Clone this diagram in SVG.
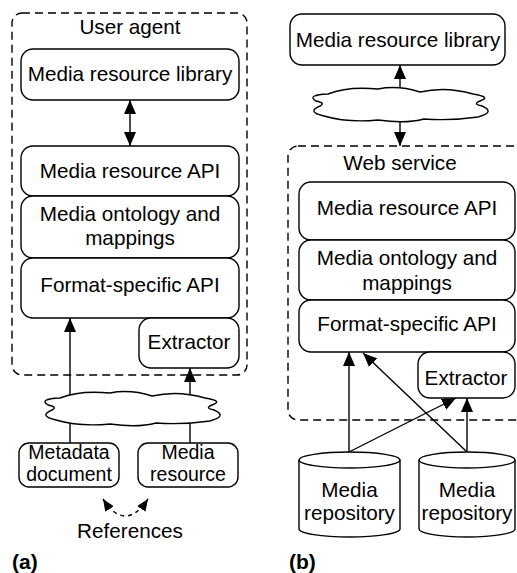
<svg xmlns="http://www.w3.org/2000/svg" width="517" height="573" viewBox="0 0 517 573">
<style>
.box{fill:#fff;stroke:#000;stroke-width:1.4}
.dash{fill:none;stroke:#000;stroke-width:1.4;stroke-dasharray:8 5}
.t{font-family:"Liberation Sans",Arial,sans-serif;font-size:20.7px;fill:#000;text-anchor:middle}
.s{font-size:19.5px}
.b{font-family:"Liberation Sans",Arial,sans-serif;font-size:21px;font-weight:bold;fill:#000}
.ln{fill:none;stroke:#000;stroke-width:1.4}
.cloud{fill:#fff;stroke:#000;stroke-width:1.4}
</style>
<defs>
<marker id="ah" viewBox="0 0 14 12" refX="14" refY="6" markerWidth="14" markerHeight="12" markerUnits="userSpaceOnUse" orient="auto-start-reverse">
<path d="M0,0 L14,6 L0,12 z" fill="#000"/>
</marker>
<marker id="ahs" viewBox="0 0 12 10" refX="12" refY="5" markerWidth="12" markerHeight="10" markerUnits="userSpaceOnUse" orient="auto-start-reverse">
<path d="M0,0 L12,5 L0,10 z" fill="#000"/>
</marker>
<path id="cl" d="M60 398 Q80 390 110 393 Q130 389 152 396 Q178 390 205 398 Q224 401 212 405 Q204 408 214 410 Q228 416 210 421 Q182 425 156 423 Q138 428 110 424 Q80 427 56 420 Q38 416 52 410 Q58 407 48 405 Q38 399 60 398 Z"/>
</defs>
<g id="user-agent">
<rect class="dash" x="12" y="13" width="235" height="362" rx="10"/>
<text class="t" x="130" y="34">User agent</text>
</g>
<g id="connectors">
<line class="ln" x1="130" y1="100" x2="130" y2="146" marker-start="url(#ah)" marker-end="url(#ah)"/>
<line class="ln" x1="70" y1="397" x2="70" y2="318" marker-end="url(#ah)"/>
<line class="ln" x1="190" y1="397" x2="190" y2="368" marker-end="url(#ah)"/>
<line class="ln" x1="70" y1="424" x2="70" y2="443"/>
<line class="ln" x1="190" y1="424" x2="190" y2="443"/>
<path class="ln" d="M103 499 Q125 533 148 499" stroke-dasharray="4 4" marker-start="url(#ahs)" marker-end="url(#ahs)"/>
<line class="ln" x1="400" y1="90" x2="400" y2="65" marker-end="url(#ah)"/>
<line class="ln" x1="400" y1="121" x2="400" y2="146" marker-end="url(#ah)"/>
<line class="ln" x1="349" y1="452" x2="349" y2="352" marker-end="url(#ah)"/>
<line class="ln" x1="467" y1="452" x2="363" y2="353" marker-end="url(#ah)"/>
<line class="ln" x1="349" y1="452" x2="456" y2="398" marker-end="url(#ah)"/>
<line class="ln" x1="467" y1="452" x2="467" y2="398" marker-end="url(#ah)"/>
</g>
<g id="mrl-a"><rect class="box" x="21" y="49" width="218" height="51" rx="12"/><text class="t" x="130" y="81">Media resource library</text></g>
<g id="api-a"><rect class="box" x="21" y="146" width="218" height="50" rx="12"/><text class="t" x="130" y="178">Media resource API</text></g>
<g id="onto-a"><rect class="box" x="21" y="196" width="218" height="62" rx="12"/><text class="t" x="130" y="221">Media ontology and</text><text class="t" x="130" y="245">mappings</text></g>
<g id="fmt-a"><rect class="box" x="21" y="258" width="218" height="60" rx="12"/><text class="t" x="130" y="292">Format-specific API</text></g>
<g id="ext-a"><rect class="box" x="139" y="318" width="100" height="50" rx="12"/><text class="t" x="189" y="349">Extractor</text></g>
<g id="cloud-a"><use href="#cl" class="cloud"/></g>
<g id="meta-doc"><rect class="box" x="19" y="443" width="100" height="44" rx="10"/><text class="t s" x="69" y="459">Metadata</text><text class="t s" x="69" y="481">document</text></g>
<g id="media-res"><rect class="box" x="138" y="443" width="100" height="44" rx="10"/><text class="t s" x="188" y="459">Media</text><text class="t s" x="188" y="481">resource</text></g>
<g id="refs"><text class="t" x="130" y="538">References</text></g>
<g id="label-a"><text class="b" x="12" y="569">(a)</text></g>

<g id="mrl-b"><rect class="box" x="290" y="14" width="215" height="51" rx="12"/><text class="t" x="398" y="47">Media resource library</text></g>
<g id="cloud-b"><use href="#cl" class="cloud" transform="translate(268,-304)"/></g>
<g id="web-service">
<rect class="dash" x="288" y="146" width="240" height="274" rx="10"/>
<text class="t" x="400" y="170">Web service</text>
</g>
<g id="api-b"><rect class="box" x="299" y="182" width="216" height="58" rx="12"/><text class="t" x="407" y="215">Media resource API</text></g>
<g id="onto-b"><rect class="box" x="299" y="240" width="216" height="60" rx="12"/><text class="t" x="407" y="265">Media ontology and</text><text class="t" x="407" y="290">mappings</text></g>
<g id="fmt-b"><rect class="box" x="299" y="300" width="216" height="52" rx="12"/><text class="t" x="407" y="331">Format-specific API</text></g>
<g id="ext-b"><rect class="box" x="418" y="352" width="97" height="46" rx="12"/><text class="t" x="466" y="385">Extractor</text></g>
<g id="repo-1">
<path class="box" d="M299 460 A50.5 8 0 0 1 400 460 L400 529 A50.5 8 0 0 1 299 529 Z"/>
<path class="ln" d="M299 460 A50.5 8 0 0 0 400 460"/>
<text class="t" x="349.5" y="497">Media</text><text class="t" x="349.5" y="520">repository</text>
</g>
<g id="repo-2">
<path class="box" d="M419 460 A48 8 0 0 1 515 460 L515 529 A48 8 0 0 1 419 529 Z"/>
<path class="ln" d="M419 460 A48 8 0 0 0 515 460"/>
<text class="t" x="467" y="497">Media</text><text class="t" x="467" y="520">repository</text>
</g>
<g id="label-b"><text class="b" x="289" y="569">(b)</text></g>
</svg>
